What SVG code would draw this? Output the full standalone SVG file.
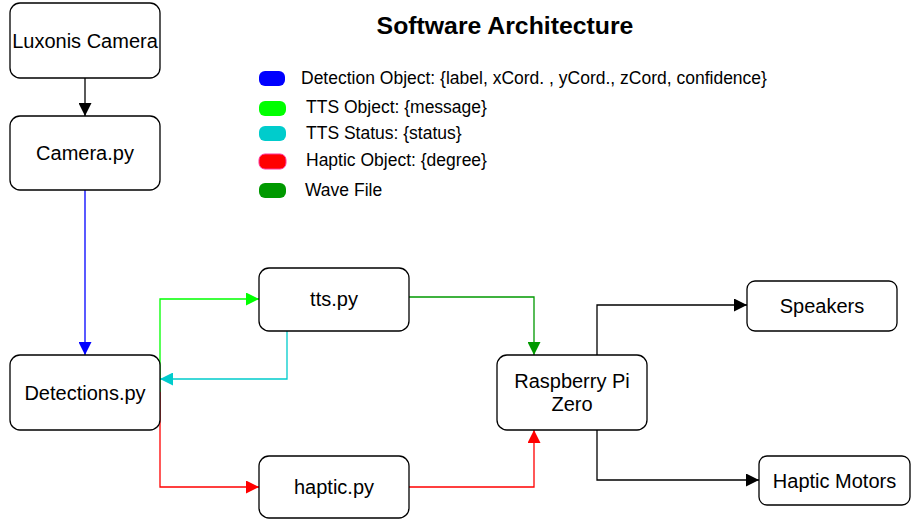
<svg xmlns="http://www.w3.org/2000/svg" width="920" height="525" viewBox="0 0 920 525">
<style>
.node rect{fill:#fff;stroke:#000;stroke-width:1.3}
.node text{font-family:"Liberation Sans",Arial,sans-serif;font-size:20px;fill:#000;text-anchor:middle}
.leg text{font-family:"Liberation Sans",Arial,sans-serif;font-size:17.5px;fill:#000}
.conn path{fill:none;stroke-width:1.3}
.title{font-family:"Liberation Sans",Arial,sans-serif;font-size:24.8px;font-weight:bold;text-anchor:middle}
</style>
<defs>
<marker id="aK" markerUnits="userSpaceOnUse" markerWidth="13" markerHeight="13" refX="13" refY="6.5" orient="auto"><path d="M0,0 L13,6.5 L0,13 z" fill="#000"/></marker>
<marker id="aB" markerUnits="userSpaceOnUse" markerWidth="13" markerHeight="13" refX="13" refY="6.5" orient="auto"><path d="M0,0 L13,6.5 L0,13 z" fill="#0000ff"/></marker>
<marker id="aG" markerUnits="userSpaceOnUse" markerWidth="13" markerHeight="13" refX="13" refY="6.5" orient="auto"><path d="M0,0 L13,6.5 L0,13 z" fill="#00ff00"/></marker>
<marker id="aC" markerUnits="userSpaceOnUse" markerWidth="13" markerHeight="13" refX="13" refY="6.5" orient="auto"><path d="M0,0 L13,6.5 L0,13 z" fill="#00cccc"/></marker>
<marker id="aR" markerUnits="userSpaceOnUse" markerWidth="13" markerHeight="13" refX="13" refY="6.5" orient="auto"><path d="M0,0 L13,6.5 L0,13 z" fill="#ff0000"/></marker>
<marker id="aD" markerUnits="userSpaceOnUse" markerWidth="13" markerHeight="13" refX="13" refY="6.5" orient="auto"><path d="M0,0 L13,6.5 L0,13 z" fill="#009900"/></marker>
</defs>
<rect width="920" height="525" fill="#fff"/>
<text class="title" x="505" y="34">Software Architecture</text>
<g id="legend" class="leg">
<rect x="259" y="71" width="26" height="15" rx="6" fill="#0000ff"/>
<text x="301" y="84">Detection Object: {label, xCord. , yCord., zCord, confidence}</text>
<rect x="259" y="101" width="27" height="15" rx="6" fill="#00ff00"/>
<text x="306" y="113">TTS Object: {message}</text>
<rect x="259" y="126" width="27" height="15" rx="6" fill="#00cccc"/>
<text x="306" y="139">TTS Status: {status}</text>
<rect x="259" y="154" width="27" height="15" rx="6" fill="#ff0000" stroke="#ff3399" stroke-width="1"/>
<text x="306" y="166">Haptic Object: {degree}</text>
<rect x="259" y="183" width="27" height="15" rx="6" fill="#009900"/>
<text x="305" y="196">Wave File</text>
</g>
<g id="connectors" class="conn">
<path d="M85,78 V116" stroke="#000" marker-end="url(#aK)"/>
<path d="M85,190 V355" stroke="#0000ff" marker-end="url(#aB)"/>
<path d="M160,392 V299 H259" stroke="#00ff00" marker-end="url(#aG)"/>
<path d="M287,331 V379 H160" stroke="#00cccc" marker-end="url(#aC)"/>
<path d="M160,392 V487 H259" stroke="#ff0000" marker-end="url(#aR)"/>
<path d="M409,297 H534 V355" stroke="#009900" marker-end="url(#aD)"/>
<path d="M409,487 H534 V430" stroke="#ff0000" marker-end="url(#aR)"/>
<path d="M597,355 V305 H747" stroke="#000" marker-end="url(#aK)"/>
<path d="M597,430 V480 H759" stroke="#000" marker-end="url(#aK)"/>
</g>
<g id="luxonis" class="node"><rect x="10" y="3" width="150" height="75" rx="10"/><text x="85" y="48">Luxonis Camera</text></g>
<g id="camera" class="node"><rect x="10" y="116" width="150" height="74" rx="10"/><text x="85" y="160">Camera.py</text></g>
<g id="detections" class="node"><rect x="10" y="355" width="150" height="75" rx="10"/><text x="85" y="400">Detections.py</text></g>
<g id="tts" class="node"><rect x="259" y="268" width="150" height="63" rx="10"/><text x="334" y="306">tts.py</text></g>
<g id="haptic" class="node"><rect x="259" y="456" width="150" height="62" rx="10"/><text x="334" y="494">haptic.py</text></g>
<g id="rpi" class="node"><rect x="497" y="355" width="150" height="75" rx="10"/><text x="572" y="388">Raspberry Pi</text><text x="572" y="411">Zero</text></g>
<g id="speakers" class="node"><rect x="747" y="281" width="150" height="50" rx="8"/><text x="822" y="313">Speakers</text></g>
<g id="motors" class="node"><rect x="759" y="456" width="151" height="49" rx="8"/><text x="834.5" y="488">Haptic Motors</text></g>
</svg>
